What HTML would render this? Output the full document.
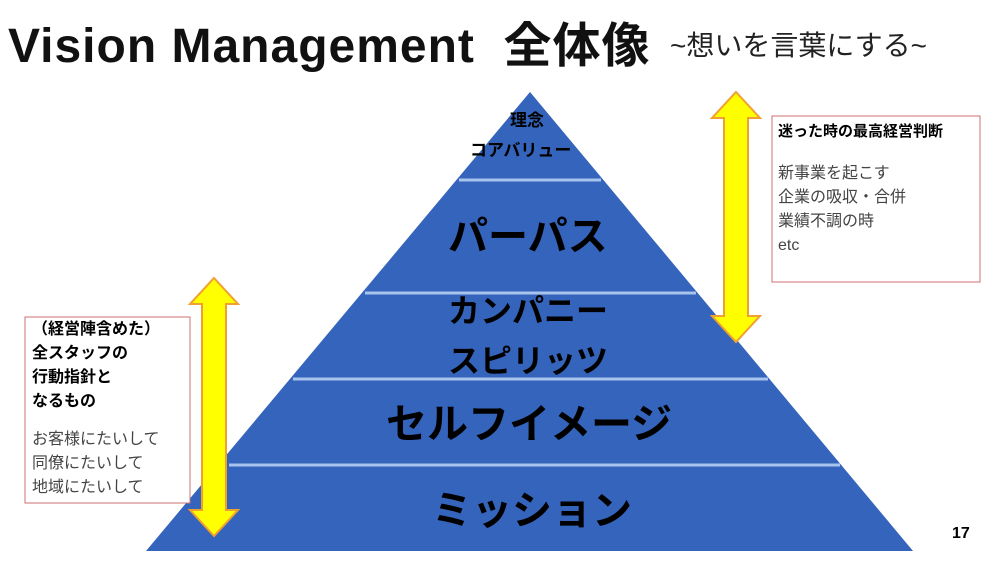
<!DOCTYPE html>
<html><head><meta charset="utf-8"><style>
body{margin:0;width:1000px;height:563px;background:#fff;overflow:hidden;position:relative;font-family:"Liberation Sans","Noto Sans CJK JP",sans-serif}
.t{position:absolute;white-space:nowrap}
</style></head><body>
<div class="t" style="left:8px;top:6px;font-size:48px;font-weight:bold;color:#111;letter-spacing:1px">Vision Management&nbsp; 全体像</div>
<div class="t" style="left:670px;top:24px;font-size:28px;color:#222">~想いを言葉にする~</div>
<svg width="1000" height="563" style="position:absolute;left:0;top:0">
<polygon points="530,92 913,551 146,551" fill="#3464bb"/>
<g stroke="#a8c4ee" stroke-width="3">
<line x1="459" y1="180" x2="601" y2="180"/>
<line x1="365" y1="293" x2="696" y2="293"/>
<line x1="293" y1="379" x2="768" y2="379"/>
<line x1="229" y1="465" x2="840" y2="465"/>
</g>
<polygon points="736,92 760,118 748,118 748,316 760,316 736,342 712,316 724,316 724,118 712,118" fill="#ffff00" stroke="#f0a030" stroke-width="2"/>
<polygon points="214,278 238,304 226,304 226,510 238,510 214,536 190,510 202,510 202,304 190,304" fill="#ffff00" stroke="#f0a030" stroke-width="2"/>
<rect x="772" y="116" width="208" height="166" fill="#fff" stroke="#d07070" stroke-width="1"/>
<rect x="25" y="317" width="165" height="186" fill="#fff" stroke="#d07070" stroke-width="1"/>
</svg>
<div class="t" style="left:510px;top:106px;font-size:17px;font-weight:bold">理念</div>
<div class="t" style="left:470px;top:136px;font-size:17px;font-weight:bold">コアバリュー</div>
<div class="t" style="left:448px;top:204px;font-size:40px;font-weight:bold">パーパス</div>
<div class="t" style="left:448px;top:286px;font-size:32px;font-weight:bold">カンパニー</div>
<div class="t" style="left:448px;top:336px;font-size:32px;font-weight:bold">スピリッツ</div>
<div class="t" style="left:386px;top:390px;font-size:41px;font-weight:bold">セルフイメージ</div>
<div class="t" style="left:432px;top:478px;font-size:40px;font-weight:bold">ミッション</div>
<div class="t" style="left:778px;top:120px;font-size:15px;font-weight:bold">迷った時の最高経営判断</div>
<div class="t" style="left:778px;top:162px;font-size:16px;line-height:24px;color:#444">新事業を起こす<br>企業の吸収・合併<br>業績不調の時<br>etc</div>
<div class="t" style="left:32px;top:318px;font-size:16px;font-weight:bold;line-height:24px">（経営陣含めた）<br>全スタッフの<br>行動指針と<br>なるもの</div>
<div class="t" style="left:32px;top:428px;font-size:16px;line-height:24px;color:#444">お客様にたいして<br>同僚にたいして<br>地域にたいして</div>
<div class="t" style="left:952px;top:525px;font-size:16px;font-weight:bold">17</div>
</body></html>
